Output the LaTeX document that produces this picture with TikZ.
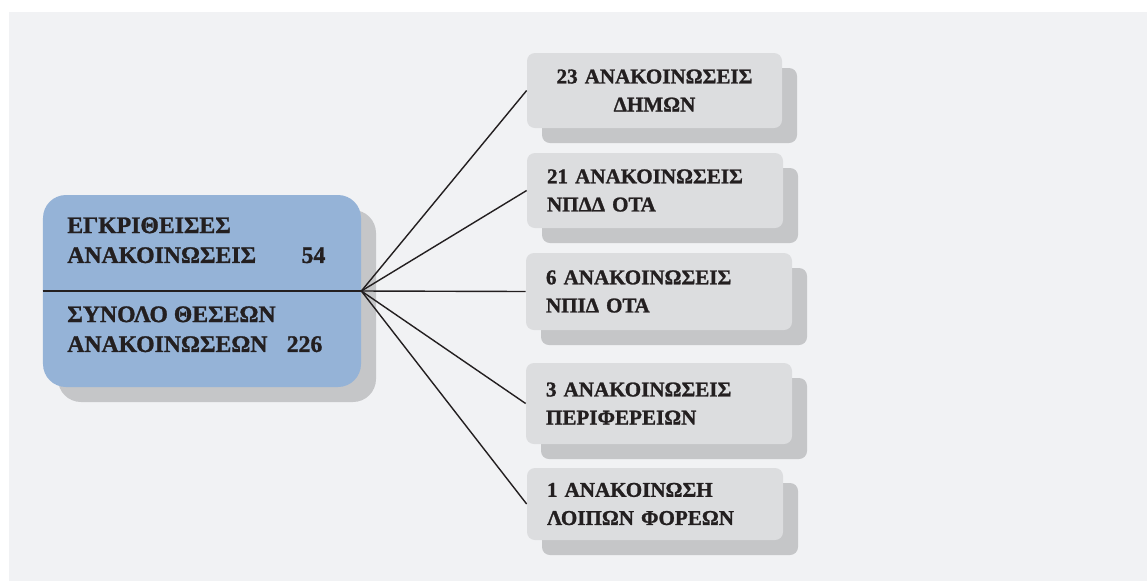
\documentclass[tikz,border=0pt]{standalone}
\usepackage{fontspec}
\setmainfont{Liberation Serif}[Script=Greek, BoldFeatures={FakeBold=1.2}]
\usepackage{tikz}
\usetikzlibrary{shadows}

\definecolor{bgcol}{HTML}{F1F2F4}
\definecolor{sumfill}{HTML}{95B3D7}
\definecolor{itemfill}{HTML}{DCDDDF}
\definecolor{shadowcol}{HTML}{C5C6C8}
\definecolor{txt}{HTML}{231F20}

\begin{document}
\begin{tikzpicture}[
		box/.style={rounded corners=0.16cm, fill=itemfill, inner xsep=0.4cm, inner ysep=0pt, text=txt,
			font=\fontsize{12}{16}\selectfont\bfseries,
			drop shadow={shadow xshift=0.3cm, shadow yshift=-0.3cm, fill=shadowcol, opacity=1}},
		maintext/.style={anchor=north west, inner sep=0pt, align=left, text=txt,
			font=\fontsize{13.5}{17}\selectfont\bfseries},
		link/.style={line width=0.8pt, draw=txt}
	]
		\begingroup
		\useasboundingbox (0,0) rectangle (22.94,-11.62);
		\fill[bgcol] (0.18,-0.24) rectangle (22.94,-11.62);
		
		% summary box
		\node[rounded corners=0.46cm, fill=sumfill, minimum width=6.36cm, minimum height=3.84cm,
			drop shadow={shadow xshift=0.3cm, shadow yshift=-0.3cm, fill=shadowcol, opacity=1}] (sum) at (4.04,-5.82) {};
		\draw[link] (sum.west) -- (sum.east);
		\node[maintext] (approved) at (1.34,-4.34) {ΕΓΚΡΙΘΕΙΣΕΣ\\ \makebox[5.16cm][s]{ΑΝΑΚΟΙΝΩΣΕΙΣ\hfill 54}};
		\node[maintext] (positions) at (1.34,-6.12) {ΣΥΝΟΛΟ ΘΕΣΕΩΝ\\ \makebox[5.10cm][s]{ΑΝΑΚΟΙΝΩΣΕΩΝ\hfill 226}};
		
		% bodies
		\node[box, align=center, text width=4.30cm, minimum height=1.50cm] (dim) at (13.09,-1.81) {23 ΑΝΑΚΟΙΝΩΣΕΙΣ\\ΔΗΜΩΝ};
		\node[box, align=left, text width=4.32cm, minimum height=1.50cm] (npdd) at (13.10,-3.81) {21 ΑΝΑΚΟΙΝΩΣΕΙΣ\\ΝΠΔΔ ΟΤΑ};
		\node[box, align=left, text width=4.52cm, minimum height=1.54cm] (npid) at (13.18,-5.83) {6 ΑΝΑΚΟΙΝΩΣΕΙΣ\\ΝΠΙΔ ΟΤΑ};
		\node[box, align=left, text width=4.52cm, minimum height=1.62cm] (per) at (13.18,-8.07) {3 ΑΝΑΚΟΙΝΩΣΕΙΣ\\ΠΕΡΙΦΕΡΕΙΩΝ};
		\node[box, align=left, text width=4.32cm, minimum height=1.44cm] (loip) at (13.10,-10.08) {1 ΑΝΑΚΟΙΝΩΣΗ\\ΛΟΙΠΩΝ ΦΟΡΕΩΝ};
		
		\draw[link] (sum.east) -- (dim.west);
		\draw[link] (sum.east) -- (npdd.west);
		\draw[link] (sum.east) -- (npid.west);
		\draw[link] (sum.east) -- (per.west);
		\draw[link] (sum.east) -- (loip.west);
		\endgroup
\end{tikzpicture}
\end{document}
